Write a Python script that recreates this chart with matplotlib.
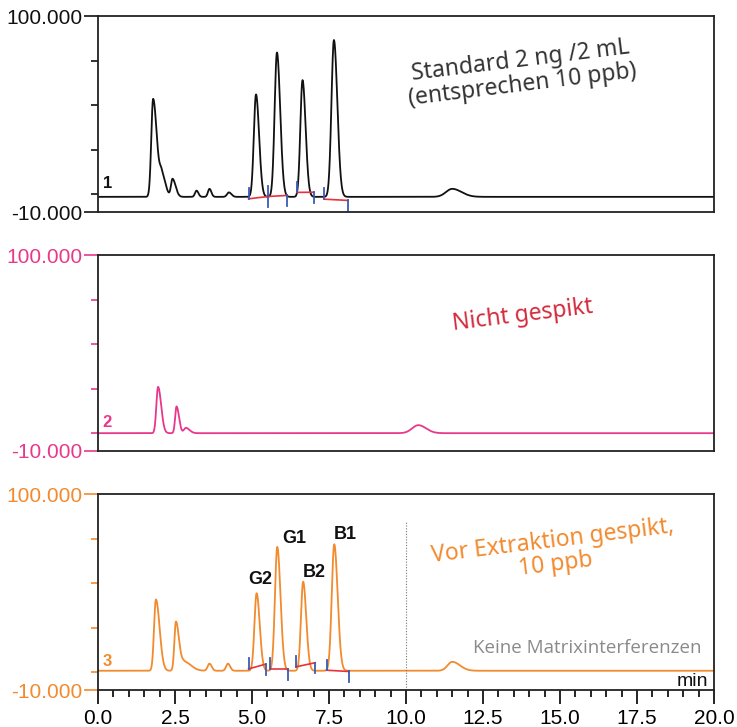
import numpy as np
import matplotlib.pyplot as plt
from matplotlib.ticker import MultipleLocator, FixedLocator

# ---------------- DATA (peak tables) ----------------
# retention time (min), height above baseline, left / right peak width (min)
std_rt = [1.79, 2.07, 2.42, 3.20, 3.62, 4.25, 5.13, 5.81, 6.64, 7.66, 11.5]
std_h = [55.0, 12.0, 10.0, 3.5, 4.5, 2.5, 57.5, 81.0, 65.5, 88.0, 4.5]
std_wl = [0.06, 0.07, 0.05, 0.05, 0.05, 0.06, 0.07, 0.075, 0.07, 0.08, 0.20]
std_wr = [0.12, 0.12, 0.10, 0.06, 0.06, 0.08, 0.10, 0.105, 0.10, 0.11, 0.30]
std_base = -1.5

blank_rt = [1.95, 2.55, 2.85, 10.4]
blank_h = [26.0, 15.0, 3.0, 4.5]
blank_wl = [0.055, 0.045, 0.06, 0.20]
blank_wr = [0.10, 0.08, 0.12, 0.25]
blank_base = 0.0

spk_rt = [1.88, 2.53, 2.8, 3.62, 4.22, 5.15, 5.82, 6.66, 7.67, 11.5]
spk_h = [40.0, 27.5, 5.0, 4.0, 4.0, 43.5, 69.5, 50.0, 71.0, 5.0]
spk_wl = [0.06, 0.05, 0.10, 0.06, 0.06, 0.07, 0.075, 0.07, 0.08, 0.15]
spk_wr = [0.12, 0.10, 0.22, 0.07, 0.07, 0.10, 0.105, 0.10, 0.11, 0.25]
spk_base = 0.8

# integration baselines (start, end, y start, y end)
std_int = [(4.89, 5.52, -2.6, -1.3), (5.52, 6.14, -1.3, -0.7),
           (6.46, 7.01, 1.0, 1.1), (7.34, 8.12, -2.8, -3.5)]
spk_int = [(4.89, 5.44, 1.85, 4.5), (5.60, 6.16, 1.85, 1.85),
           (6.43, 7.05, 3.0, 5.3), (7.42, 8.14, 1.1, 0.4)]

peak_names = ["G2", "G1", "B2", "B1"]
peak_label_pos = [(5.28, 52), (6.36, 75), (7.02, 56), (8.02, 77)]

black = "#111111"
pink = "#E8388C"
orange = "#F28A2E"

t = np.linspace(0, 20, 4001)


def trace(rt, h, wl, wr, base):
    y = np.full_like(t, base)
    for r, a, sl, sr in zip(rt, h, wl, wr):
        s = np.where(t < r, sl, sr)
        y += a * np.exp(-0.5 * ((t - r) / s) ** 2)
    return y


# ---------------- FIGURE ----------------
fig = plt.figure(figsize=(7.37, 7.27), dpi=100)
L, W, H = 98 / 737, 616 / 737, 196 / 727
ax1 = fig.add_axes([L, 1 - 212 / 727, W, H])
ax2 = fig.add_axes([L, 1 - 451 / 727, W, H])
ax3 = fig.add_axes([L, 1 - 690 / 727, W, H])

tickfont = "Liberation Sans"

for ax, col, y, num in [(ax1, black, trace(std_rt, std_h, std_wl, std_wr, std_base), "1"),
                        (ax2, pink, trace(blank_rt, blank_h, blank_wl, blank_wr, blank_base), "2"),
                        (ax3, orange, trace(spk_rt, spk_h, spk_wl, spk_wr, spk_base), "3")]:
    ax.plot(t, y, color=col, lw=1.3)
    ax.set_xlim(0, 20)
    ax.set_ylim(-10, 100)
    ax.yaxis.set_major_locator(FixedLocator([-10, 100]))
    ax.yaxis.set_minor_locator(FixedLocator([0, 25, 50, 75]))
    ax.set_yticklabels(["-10.000", "100.000"], fontsize=15, family=tickfont, color=col)
    ax.tick_params(axis="y", which="major", length=10, width=1.2, color=col, pad=1)
    ax.tick_params(axis="y", which="minor", length=5, width=1.2, color=col)
    for sp in ax.spines.values():
        sp.set_color("#222222")
        sp.set_linewidth(1.3)
    ax.text(0.15, 6, num, color=col, fontsize=12, fontweight="bold", family=tickfont,
            ha="left", va="center")

for ax in (ax1, ax2):
    ax.set_xticks([])

ax3.xaxis.set_major_locator(MultipleLocator(2.5))
ax3.xaxis.set_minor_locator(MultipleLocator(0.5))
ax3.set_xticklabels([f"{v:.1f}" for v in ax3.get_xticks()], fontsize=15, family=tickfont)
ax3.tick_params(axis="x", which="major", length=10, width=1.2, pad=4)
ax3.tick_params(axis="x", which="minor", length=5, width=1.2)

# integration marks
for ax, segs in [(ax1, std_int), (ax3, spk_int)]:
    for x0, x1, y0, y1 in segs:
        ax.plot([x0, x1], [y0, y1], color="#E8323A", lw=1.2)
        ax.plot([x0, x0], [y0, y0 + 6], color="#3A5BB5", lw=1.3)
        ax.plot([x1, x1], [y1 - 6, y1], color="#3A5BB5", lw=1.3)

for name, (px, py) in zip(peak_names, peak_label_pos):
    ax3.text(px, py, name, fontsize=13, fontweight="bold", family=tickfont,
             ha="center", va="center", color="#111111")

ax3.axvline(10, ymin=0, ymax=0.86, color="#777777", lw=0.8, ls=(0, (1, 1.5)))

hand = "Noto Sans"
ax1.text(13.75, 68, "Standard 2 ng /2 mL\n(entsprechen 10 ppb)", fontsize=16.5, family=hand,
         color="#333333", ha="center", va="center", rotation=7, linespacing=1.0)
ax2.text(13.8, 66, "Nicht gespikt", fontsize=16.5, family=hand, color="#D42A3C",
         ha="center", va="center", rotation=7)
ax3.text(14.8, 67, "Vor Extraktion gespikt,\n10 ppb", fontsize=16.5, family=hand,
         color=orange, ha="center", va="center", rotation=7, linespacing=1.0)

ax3.text(19.58, 13.5, "Keine Matrixinterferenzen", fontsize=13.5, family="Open Sans",
         color="#8A8A8A", ha="right", va="center")
ax3.text(19.8, -5.5, "min", fontsize=14, family=tickfont, color="#111111",
         ha="right", va="center")

fig.savefig("out.png", dpi=100)
